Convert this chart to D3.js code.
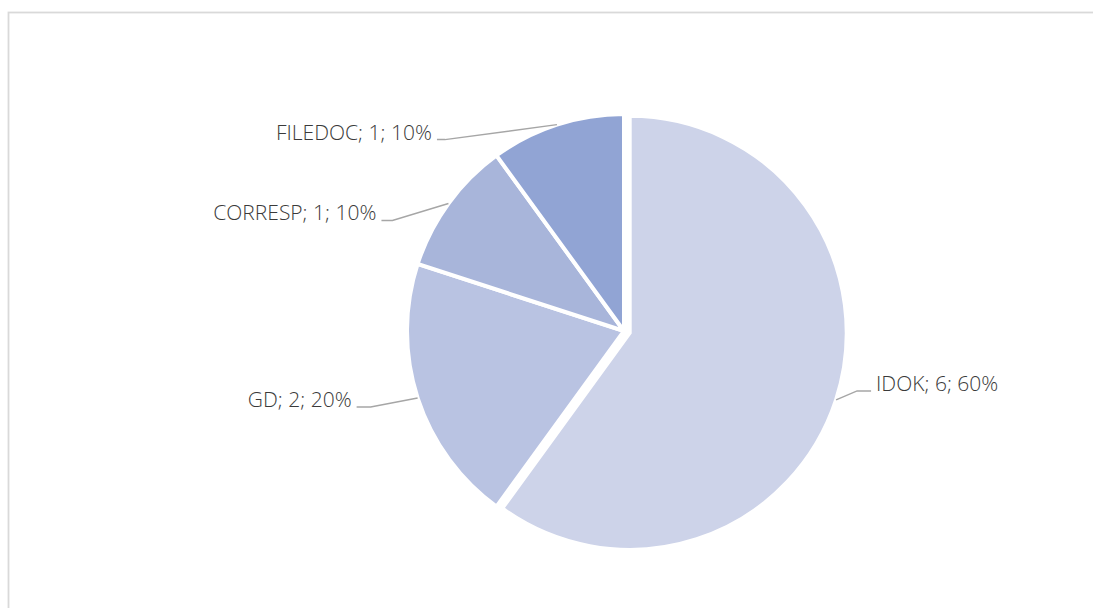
<!DOCTYPE html>
<html><head><meta charset="utf-8">
<script src="https://cdn.jsdelivr.net/npm/d3@7"></script>
<style>body{margin:0;background:#fff}svg{display:block}</style>
</head><body>
<svg id="c" width="1093" height="608"></svg>
<script>
const categories = ["IDOK", "GD", "CORRESP", "FILEDOC"];
const values = [6, 2, 1, 1];
const colors = ["#CDD3E9", "#B9C3E2", "#A8B5DA", "#91A4D4"];

const svg = d3.select("#c");
svg.append("rect").attr("x", 8.5).attr("y", 12.5).attr("width", 1100).attr("height", 620)
  .attr("fill", "#fff").attr("stroke", "#D9D9D9").attr("stroke-width", 1.8);

const cx = 624, cy = 331, r = 217;
const total = d3.sum(values);
const data = categories.map((c, i) => ({cat: c, val: values[i], color: colors[i], explode: i === 0 ? 6 : 0}));
const pie = d3.pie().value(d => d.val).sort(null);
const arcs = pie(data);
const arc = d3.arc().innerRadius(0).outerRadius(r);

const g = svg.append("g").attr("transform", `translate(${cx},${cy})`);
const lab = [
  {dx: 21, dy: -9, side: 1, h: 14},
  {dx: -47, dy: 9, side: -1, h: 14},
  {dx: -56, dy: 17, side: -1, h: 11},
  {dx: -112, dy: 15, side: -1, h: 8}
];
arcs.forEach((a, i) => {
  const mid = (a.startAngle + a.endAngle) / 2;
  const ox = Math.sin(mid) * a.data.explode, oy = -Math.cos(mid) * a.data.explode;
  g.append("path").attr("d", arc(a)).attr("transform", `translate(${ox},${oy})`)
    .attr("fill", a.data.color).attr("stroke", "#fff").attr("stroke-width", 4).attr("stroke-linejoin", "miter");
  const px = ox + Math.sin(mid) * r, py = oy - Math.cos(mid) * r;
  const L = lab[i];
  const ex = px + L.dx, ey = py + L.dy;
  const hx = ex + L.side * L.h;
  g.append("polyline").attr("points", `${px},${py} ${ex},${ey} ${hx},${ey}`)
    .attr("fill", "none").attr("stroke", "#A6A6A6").attr("stroke-width", 1.5);
  const pct = Math.round(a.data.val / total * 100);
  g.append("text").attr("x", hx + L.side * 5).attr("y", ey)
    .attr("text-anchor", L.side > 0 ? "start" : "end")
    .attr("font-family", "'Open Sans', sans-serif").attr("font-weight", 300)
    .attr("font-size", 21).attr("fill", "#3A3A3A")
    .text(`${a.data.cat}; ${a.data.val}; ${pct}%`);
});
</script>
</body></html>
